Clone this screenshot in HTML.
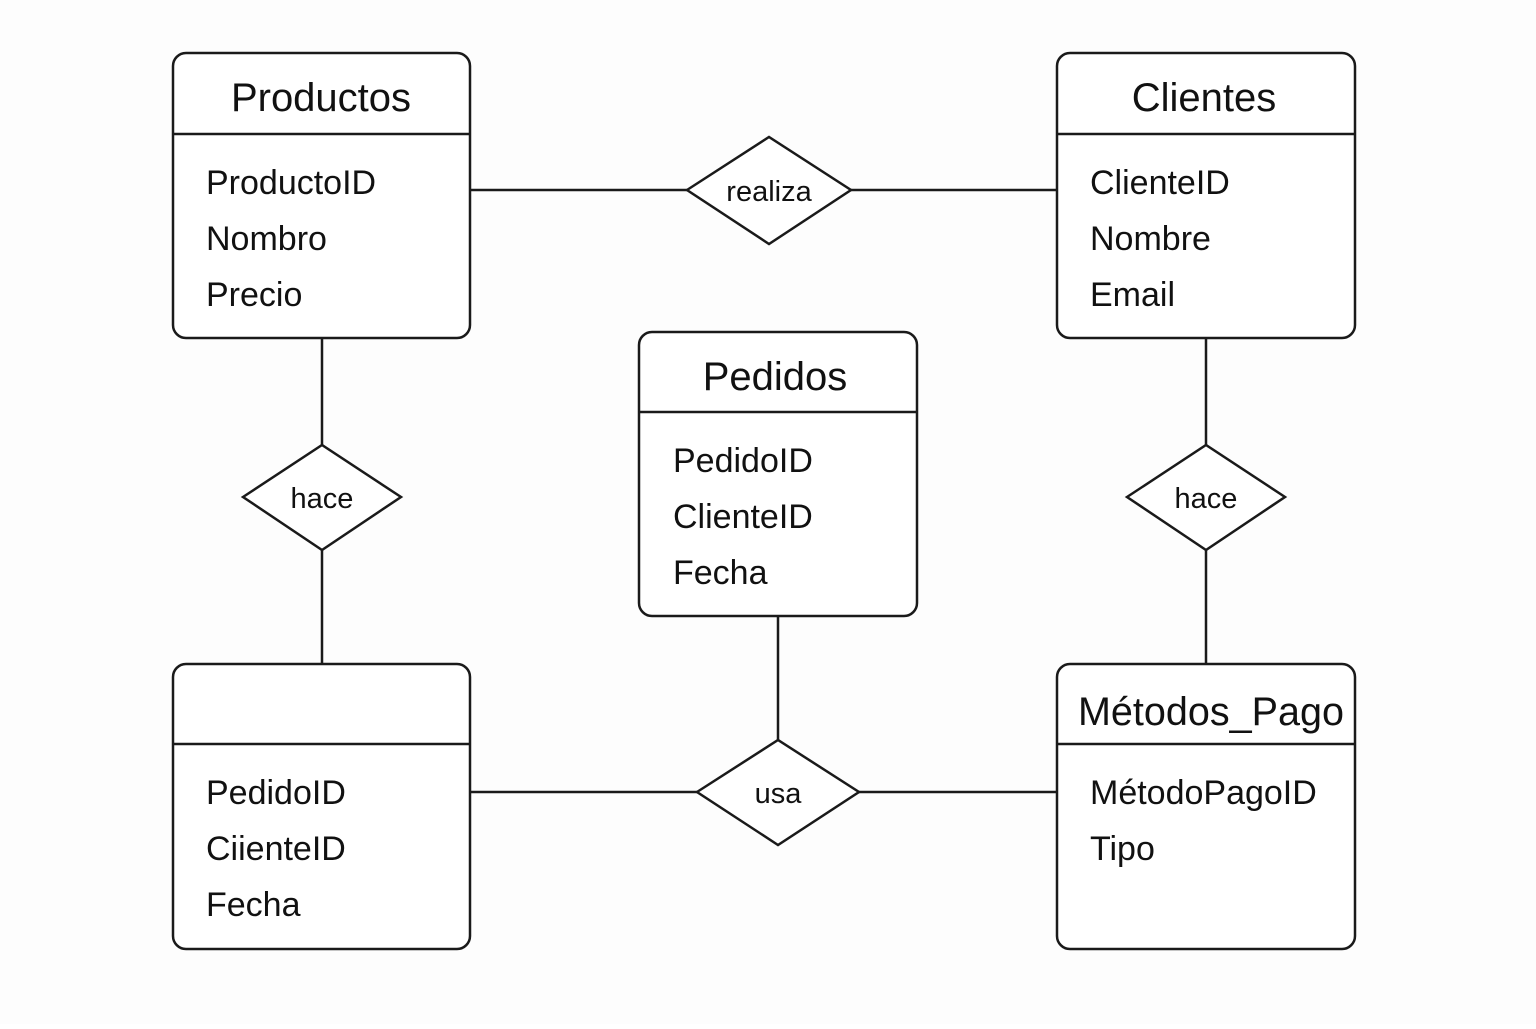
<!DOCTYPE html>
<html><head><meta charset="utf-8"><style>html,body{margin:0;padding:0;background:#fff}</style></head>
<body>
<svg width="1536" height="1024" viewBox="0 0 1536 1024" xmlns="http://www.w3.org/2000/svg" font-family="Liberation Sans, DejaVu Sans, sans-serif" fill="#111">
<rect width="1536" height="1024" fill="#fdfdfd"/>
<g stroke="#1a1a1a" stroke-width="2.5" fill="none">
<line x1="470" y1="190" x2="687" y2="190"/><line x1="851" y1="190" x2="1057" y2="190"/>
<line x1="322" y1="338" x2="322" y2="445"/><line x1="322" y1="550" x2="322" y2="664"/>
<line x1="1206" y1="338" x2="1206" y2="445"/><line x1="1206" y1="550" x2="1206" y2="664"/>
<line x1="778" y1="616" x2="778" y2="740"/>
<line x1="470" y1="792" x2="697" y2="792"/><line x1="859" y1="792" x2="1057" y2="792"/>
<rect x="173" y="53" width="297" height="285" rx="13" fill="#fff"/><line x1="173" y1="134" x2="470" y2="134"/>
<rect x="1057" y="53" width="298" height="285" rx="13" fill="#fff"/><line x1="1057" y1="134" x2="1355" y2="134"/>
<rect x="639" y="332" width="278" height="284" rx="13" fill="#fff"/><line x1="639" y1="412" x2="917" y2="412"/>
<rect x="173" y="664" width="297" height="285" rx="13" fill="#fff"/><line x1="173" y1="744" x2="470" y2="744"/>
<rect x="1057" y="664" width="298" height="285" rx="13" fill="#fff"/><line x1="1057" y1="744" x2="1355" y2="744"/>
<polygon points="687,190 769,137 851,190 769,244" fill="#fff"/>
<polygon points="243,497 322,445 401,497 322,550" fill="#fff"/>
<polygon points="1127,497 1206,445 1285,497 1206,550" fill="#fff"/>
<polygon points="697,792 778,740 859,792 778,845" fill="#fff"/>
</g>
<g font-size="40" text-anchor="middle">
<text x="321" y="111">Productos</text>
<text x="1204" y="111">Clientes</text>
<text x="775" y="390">Pedidos</text>
<text x="1211" y="725" textLength="266" lengthAdjust="spacingAndGlyphs">Métodos_Pago</text>
</g>
<g font-size="34">
<text x="206" y="194">ProductoID</text><text x="206" y="250">Nombro</text><text x="206" y="306">Precio</text>
<text x="1090" y="194">ClienteID</text><text x="1090" y="250">Nombre</text><text x="1090" y="306">Email</text>
<text x="673" y="472">PedidoID</text><text x="673" y="528">ClienteID</text><text x="673" y="584">Fecha</text>
<text x="206" y="804">PedidoID</text><text x="206" y="860">CiienteID</text><text x="206" y="916">Fecha</text>
<text x="1090" y="804">MétodoPagoID</text><text x="1090" y="860">Tipo</text>
</g>
<g font-size="29" text-anchor="middle">
<text x="769" y="201">realiza</text>
<text x="322" y="508">hace</text>
<text x="1206" y="508">hace</text>
<text x="778" y="803">usa</text>
</g>
</svg>
</body></html>
